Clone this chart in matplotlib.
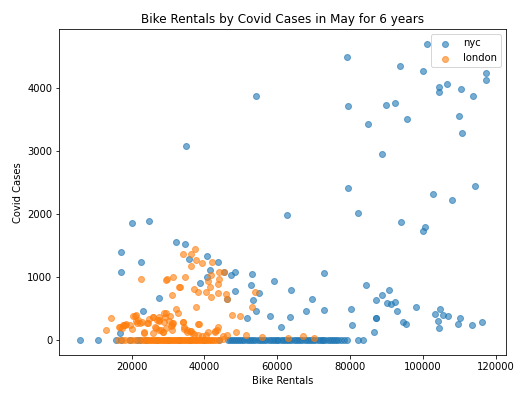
import matplotlib
matplotlib.use("Agg")
import matplotlib.pyplot as plt

# NYC: bike rentals (thousands) and covid cases
nyc_rentals_k = [101.2, 79.1, 93.8, 100.0, 117.2, 117.2, 106.7, 104.5, 104.5, 110.5, 113.8, 54.3,
                 79.4, 89.9, 92.3, 84.9, 95.6, 110.0, 110.8, 35.0, 88.8, 79.4, 114.4, 102.8, 108.1,
                 62.6, 82.2, 20.2, 24.9, 94.0, 100.6, 100.0, 32.3, 34.8, 17.1, 22.7, 17.1, 35.9,
                 40.6, 43.6, 41.4, 40.8, 38.9, 45.5, 47.2, 48.5, 53.0, 52.7, 54.9, 53.3, 54.3, 59.0,
                 63.7, 48.3, 46.1, 27.6, 23.0, 51.6, 57.9, 60.9, 63.4, 67.8, 69.5, 72.8, 72.8, 80.2,
                 80.5, 84.4, 87.1, 88.8, 90.7, 90.1, 91.2, 92.3, 92.9, 87.1, 87.1, 86.6, 94.5, 95.4,
                 98.2, 103.4, 104.8, 104.2, 104.5, 105.6, 107.0, 110.3, 109.7, 113.6, 116.1, 16.9]
nyc_cases = [4702, 4496, 4354, 4274, 4243, 4132, 4069, 4021, 3942, 3989, 3879, 3879,
             3720, 3736, 3768, 3435, 3515, 3562, 3293, 3087, 2960, 2422, 2454, 2327, 2232,
             1979, 2011, 1852, 1884, 1868, 1789, 1726, 1551, 1520, 1393, 1235, 1077, 1282,
             1330, 1235, 1108, 997, 902, 1077, 1029, 1077, 1045, 871, 744, 633, 459, 934,
             792, 776, 649, 665, 459, 348, 380, 206, 364, 459, 649, 1061, 475, 491,
             237, 871, 633, 712, 792, 586, 570, 602, 459, 348, 348, 127, 285, 253,
             522, 412, 491, 301, 190, 396, 380, 348, 253, 237, 285, 111]
nyc_zero_rentals_k = [5.8, 10.7, 15.8, 17.0, 19.5, 21.5, 22.3, 24.0, 27.0, 30.0, 33.0, 36.0, 40.0,
                      44.0, 46.5, 47.0, 47.5, 48.0, 48.6, 49.2, 49.8, 50.3, 51.0, 51.6, 52.2,
                      52.8, 53.3, 54.0, 54.6, 55.2, 55.8, 56.4, 57.0, 57.6, 58.2, 58.8, 59.3,
                      59.8, 60.3, 60.9, 61.5, 62.1, 62.7, 63.3, 63.9, 64.5, 65.1, 65.7, 66.3,
                      66.9, 67.5, 68.1, 68.7, 69.3, 69.9, 70.5, 71.1, 71.7, 72.2, 72.7, 73.2,
                      73.8, 74.4, 75.0, 75.6, 76.2, 76.8, 77.6, 78.4, 79.2, 82.2, 83.6]

# London
lon_rentals_k = [37.5, 34.2, 36.2, 37.8, 36.4, 39.2, 42.2, 41.7, 44.1, 45.5, 44.1, 43.8, 41.1,
                 41.4, 40.3, 41.9, 43.8, 45.8, 46.1, 38.3, 37.2, 33.1, 34.8, 31.2, 31.5, 29.5,
                 29.8, 22.7, 37.8, 32.3, 32.8, 34.2, 38.3, 29.0, 29.3, 27.4, 26.0, 21.0, 14.4,
                 13.0, 16.6, 18.0, 18.5, 20.2, 21.3, 21.8, 22.4, 22.9, 23.5, 24.6, 26.8, 27.4,
                 28.2, 28.7, 29.5, 30.4, 31.2, 31.5, 34.5, 35.3, 36.1, 37.2, 38.3, 39.4, 40.5,
                 42.8, 43.6, 45.0, 46.1, 47.7, 49.7, 48.6, 51.3, 53.8, 53.0, 55.7, 62.9, 67.0,
                 70.0, 45.2,
                 16.8, 17.6, 18.3, 20.4, 21.1, 24.3, 23.4, 27.0, 28.5, 33.3, 34.2, 34.5, 35.1,
                 36.2, 36.6, 38.4, 31.2, 30.7, 40.9, 42.8, 43.5, 21.6, 24.8, 25.8, 26.5, 27.6,
                 29.0, 29.5, 30.6, 31.0, 27.6, 25.9, 19.5, 17.5]
lon_cases = [1441, 1361, 1361, 1266, 1172, 1219, 1235, 1029, 1077, 1077, 966, 887, 934,
             839, 760, 681, 744, 728, 649, 760, 807, 839, 997, 712, 997, 950,
             966, 966, 522, 491, 427, 285, 253, 427, 364, 364, 364, 380, 348,
             158, 206, 237, 253, 174, 301, 317, 269, 285, 127, 269, 190, 301,
             158, 127, 190, 301, 237, 269, 174, 127, 142, 95, 79, 63, 79,
             142, 206, 63, 79, 396, 380, 127, 79, 760, 522, 47, 32, 63,
             32, 16,
             219, 241, 250, 388, 399, 282, 120, 325, 131, 842, 293, 219, 166,
             155, 120, 262, 272, 230, 131, 139, 166, 282, 332, 364, 219, 325,
             298, 430, 388, 166, 166, 111, 242, 198]
lon_zero_rentals_k = [16.2, 17.3, 18.3, 19.3, 20.2, 21.0, 22.1, 22.8, 23.4, 24.0, 24.5, 24.9,
                      25.3, 25.7, 26.1, 26.5, 26.9, 27.3, 27.7, 28.1, 28.5, 28.9, 29.3, 29.7,
                      30.1, 30.5, 30.9, 31.3, 31.7, 32.1, 32.5, 32.9, 33.3, 33.7, 34.1, 34.5,
                      34.9, 35.3, 35.7, 36.1, 36.5, 36.9, 37.3, 37.7, 38.1, 38.5, 38.9, 39.3,
                      39.7, 40.1, 40.5, 40.9, 41.3, 41.7, 42.1, 42.6, 43.2, 44.0]

nyc_x = [v * 1000 for v in nyc_rentals_k] + [v * 1000 for v in nyc_zero_rentals_k]
nyc_y = nyc_cases + [0] * len(nyc_zero_rentals_k)
lon_x = [v * 1000 for v in lon_rentals_k] + [v * 1000 for v in lon_zero_rentals_k]
lon_y = lon_cases + [0] * len(lon_zero_rentals_k)

fig = plt.figure(figsize=(521 / 72, 393 / 72), dpi=72)
ax = fig.add_axes([59.3 / 521, 1 - 355.3 / 393, (506.3 - 59.3) / 521, (355.3 - 29.3) / 393])
ax.scatter(nyc_x, nyc_y, alpha=0.6, label="nyc")
ax.scatter(lon_x, lon_y, alpha=0.6, label="london")
ax.set_xlim(150, 122900)
ax.set_ylim(-237, 4930)
ax.set_title("Bike Rentals by Covid Cases in May for 6 years")
ax.set_xlabel("Bike Rentals")
ax.set_ylabel("Covid Cases")
ax.legend(loc="upper right")
fig.savefig("out.png", dpi=72)
